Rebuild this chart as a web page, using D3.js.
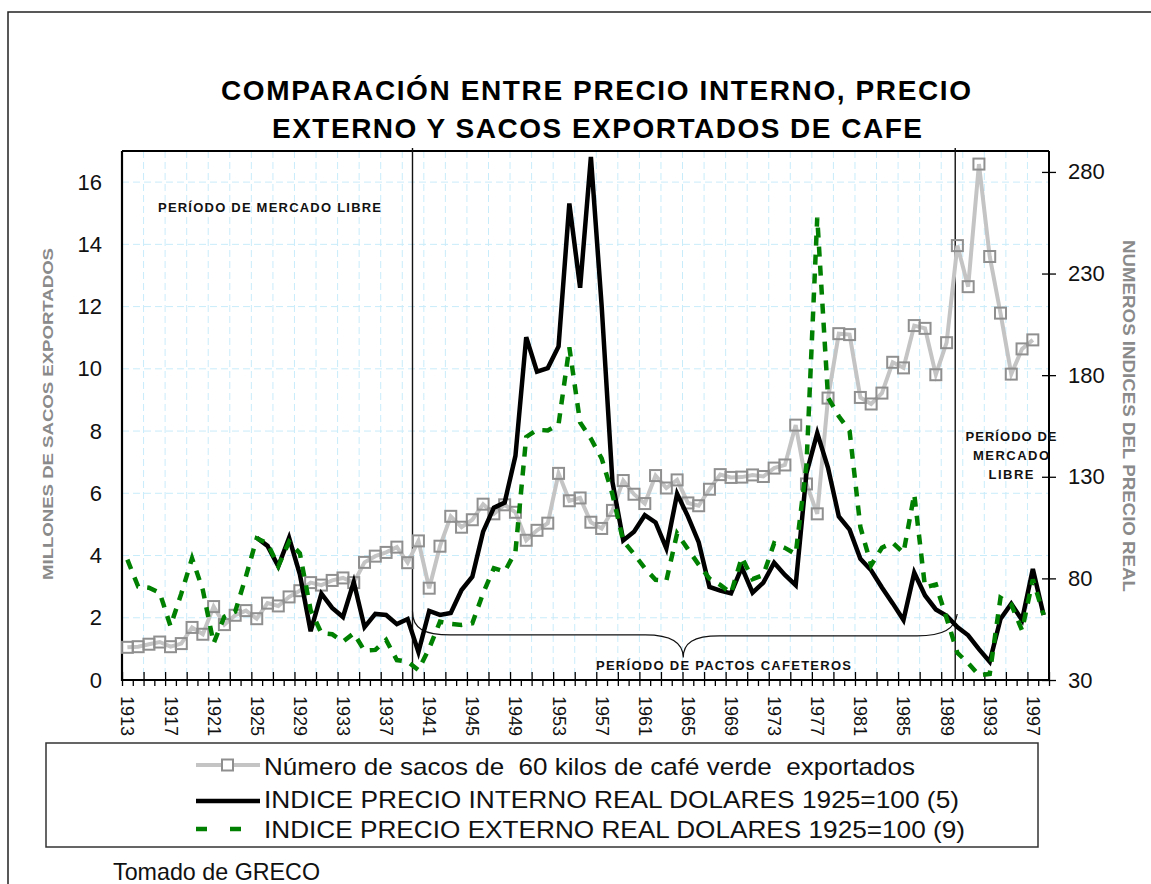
<!DOCTYPE html>
<html>
<head>
<meta charset="utf-8">
<script src="https://d3js.org/d3.v7.min.js"></script>
<style>
  body { margin: 0; background: #fff; }
  text { font-family: "Liberation Sans", Arial, sans-serif; }
</style>
</head>
<body>
<svg id="chart" width="1151" height="884"></svg>
<script>
// one entry per year, 1913..1998
const years = d3.range(1913, 1999)

// millones de sacos exportados (left axis)
const sacosExportados = [
  1.05, 1.07, 1.15, 1.22, 1.07, 1.17, 1.69, 1.47, 2.36, 1.78,
  2.08, 2.23, 1.97, 2.47, 2.38, 2.67, 2.87, 3.13, 3.05, 3.2,
  3.28, 3.13, 3.78, 3.98, 4.1, 4.27, 3.77, 4.47, 2.95, 4.3,
  5.26, 4.91, 5.15, 5.65, 5.34, 5.63, 5.39, 4.49, 4.81, 5.04,
  6.64, 5.76, 5.85, 5.07, 4.87, 5.45, 6.41, 5.97, 5.67, 6.57,
  6.17, 6.43, 5.69, 5.6, 6.13, 6.6, 6.51, 6.52, 6.59, 6.54,
  6.81, 6.91, 8.19, 6.3, 5.34, 9.06, 11.13, 11.1, 9.08, 8.87,
  9.22, 10.21, 10.03, 11.39, 11.3, 9.81, 10.84, 13.96, 12.64, 16.58,
  13.61, 11.79, 9.83, 10.64, 10.93, null
]

// indice precio interno real (right axis)
const precioInterno = [
  null, null, null, null, null, null, null, null, null, null, null, null,
  100, 96, 86, 100, 82, 54, 72.5, 65.5, 61, 78.2,
  56, 62.5, 62, 57.5, 60, 43.8, 64, 62, 63, 74.3,
  80.8, 103, 114.8, 117.3, 140.3, 198.7, 181.7, 183.5, 194.1, 264.5,
  223, 287.4, 214, 127.5, 98.7, 103, 111.1, 107.5, 94.8, 121.6,
  110.5, 97.8, 75.8, 74, 72.6, 85.4, 73, 77.9, 87.7, 81.7,
  76.7, 131.8, 151.5, 134.4, 110.5, 104, 89.7, 84, 75.5, 67.7,
  59.5, 82.8, 71.6, 64.7, 61.6, 56, 52, 45.2, 39, 60,
  67.5, 59.5, 84.6, 62
]

// indice precio externo real (right axis)
const precioExterno = [
  89.2, 76, 75.4, 72.9, 56.5, 72.5, 89.9, 74.3, 48.1, 61.2,
  63.6, 81, 99.7, 97.3, 86, 98, 92.3, 64.4, 53, 52.5,
  48.9, 53, 44.4, 44.8, 49.7, 39.8, 39, 34.9, 45.6, 58.7,
  57.6, 57.1, 57.9, 72.7, 85, 83.3, 93.1, 149.6, 153.1, 152.8,
  155.8, 193.7, 156.7, 148.7, 139, 121.4, 98.4, 92, 85, 79.3,
  78.8, 102.1, 94.4, 86.8, 79.9, 76.8, 72.7, 90.4, 79.6, 81.7,
  97.3, 95, 92, 135.8, 257.5, 169, 159.8, 152.5, 105.3, 86.5,
  95.1, 97.6, 92.5, 121.4, 75.6, 77, 60.4, 43.4, 38.3, 32.4,
  33, 70.5, 67.2, 54.4, 79.5, 62
]

const leftTicks = [0, 2, 4, 6, 8, 10, 12, 14, 16]
const rightTicks = [30, 80, 130, 180, 230, 280]
const yearLabels = [1913, 1917, 1921, 1925, 1929, 1933, 1937, 1941, 1945, 1949, 1953,
  1957, 1961, 1965, 1969, 1973, 1977, 1981, 1985, 1989, 1993, 1997]
const periodBreaks = [1939.45, 1989.8]

const legendLabels = [
  "Número de sacos de  60 kilos de café verde  exportados",
  "INDICE PRECIO INTERNO REAL DOLARES 1925=100 (5)",
  "INDICE PRECIO EXTERNO REAL DOLARES 1925=100 (9)"
]

const svg = d3.select("#chart")
const plot = { left: 122, right: 1049, top: 151, bottom: 680 }

const x = d3.scaleLinear().domain([1912.5, 1998.5]).range([plot.left, plot.right])
const yL = d3.scaleLinear().domain([0, 17]).range([plot.bottom, plot.top])
const yR = d3.scaleLinear().domain([30, 290.3]).range([plot.bottom, plot.top])

// outer frame
svg.append("rect").attr("x", 8).attr("y", 12).attr("width", 1160).attr("height", 900)
  .attr("fill", "none").attr("stroke", "#222").attr("stroke-width", 1.5)

// title
svg.append("text").attr("x", 596).attr("y", 100).attr("text-anchor", "middle")
  .attr("font-size", 28).attr("font-weight", "bold").attr("textLength", 750)
  .text("COMPARACIÓN ENTRE PRECIO INTERNO, PRECIO")
svg.append("text").attr("x", 597).attr("y", 138).attr("text-anchor", "middle")
  .attr("font-size", 28).attr("font-weight", "bold").attr("textLength", 650)
  .text("EXTERNO Y SACOS EXPORTADOS DE CAFE")

// grid
const grid = svg.append("g").attr("stroke", "#c9ecfa").attr("stroke-width", 1).attr("stroke-dasharray", "7,4")
grid.selectAll(".h").data(leftTicks.slice(1)).join("line")
  .attr("x1", plot.left).attr("x2", plot.right)
  .attr("y1", d => yL(d)).attr("y2", d => yL(d))
grid.selectAll(".v").data(d3.range(1914.5, 1998, 2)).join("line")
  .attr("x1", d => x(d)).attr("x2", d => x(d))
  .attr("y1", plot.top).attr("y2", plot.bottom)

// x axis ticks: minor every category, major every two
const minorAxis = svg.append("g").attr("transform", `translate(0,${plot.bottom})`)
  .call(d3.axisBottom(x).tickValues(d3.range(1913.5, 1998, 2)).tickSize(6).tickFormat(""))
const majorAxis = svg.append("g").attr("transform", `translate(0,${plot.bottom})`)
  .call(d3.axisBottom(x).tickValues(d3.range(1912.5, 1999, 2)).tickSize(6).tickFormat(""))
majorAxis.selectAll(".tick line").attr("y1", -8)
;[minorAxis, majorAxis].forEach(g => {
  g.select(".domain").remove()
  g.selectAll(".tick line").attr("stroke", "#000").attr("stroke-width", 1.3)
})

const labelAxis = svg.append("g").attr("transform", `translate(0,${plot.bottom})`)
  .call(d3.axisBottom(x).tickValues(yearLabels).tickSize(0).tickFormat(d3.format("d")))
labelAxis.select(".domain").remove()
labelAxis.selectAll(".tick text")
  .attr("font-family", "Liberation Sans, Arial, sans-serif").attr("font-size", 18)
  .attr("fill", "#111")
  .attr("text-anchor", "start").attr("y", 0).attr("dy", "0.36em")
  .attr("transform", "translate(0,16) rotate(90)")

// left axis labels
const leftAxis = svg.append("g").attr("transform", `translate(${plot.left},0)`)
  .call(d3.axisLeft(yL).tickValues(leftTicks).tickSize(0).tickPadding(20))
leftAxis.select(".domain").remove()
leftAxis.selectAll(".tick text").attr("font-family", "Liberation Sans, Arial, sans-serif")
  .attr("font-size", 22).attr("fill", "#111")

// right axis
const rightAxis = svg.append("g").attr("transform", `translate(${plot.right},0)`)
  .call(d3.axisRight(yR).tickValues(rightTicks).tickSize(7).tickPadding(12))
rightAxis.select(".domain").remove()
rightAxis.selectAll(".tick line").attr("x1", -7).attr("stroke", "#000").attr("stroke-width", 1.3)
rightAxis.selectAll(".tick text").attr("font-family", "Liberation Sans, Arial, sans-serif")
  .attr("font-size", 22).attr("fill", "#111")

// frame lines of the plot
svg.append("line").attr("x1", plot.left).attr("x2", plot.right).attr("y1", plot.top).attr("y2", plot.top)
  .attr("stroke", "#000").attr("stroke-width", 1.8)
svg.append("line").attr("x1", plot.right).attr("x2", plot.right).attr("y1", plot.top).attr("y2", plot.bottom)
  .attr("stroke", "#000").attr("stroke-width", 2)
svg.append("line").attr("x1", plot.left).attr("x2", plot.left).attr("y1", plot.top).attr("y2", plot.bottom + 1)
  .attr("stroke", "#000").attr("stroke-width", 2.2)
svg.append("line").attr("x1", plot.left).attr("x2", plot.right).attr("y1", plot.bottom).attr("y2", plot.bottom)
  .attr("stroke", "#000").attr("stroke-width", 2.2)

// axis titles
svg.append("text").attr("transform", "translate(53,414) rotate(-90)").attr("text-anchor", "middle")
  .attr("font-size", 15).attr("font-weight", "bold").attr("fill", "#8a8a8a")
  .attr("textLength", 332).attr("lengthAdjust", "spacingAndGlyphs")
  .text("MILLONES DE SACOS EXPORTADOS")
svg.append("text").attr("transform", "translate(1123,416) rotate(90)").attr("text-anchor", "middle")
  .attr("font-size", 16).attr("font-weight", "bold").attr("fill", "#8a8a8a")
  .attr("textLength", 352).attr("lengthAdjust", "spacingAndGlyphs")
  .text("NUMEROS INDICES DEL PRECIO REAL")

// period separators
svg.selectAll(".sep").data(periodBreaks).join("line")
  .attr("x1", d => x(d)).attr("x2", d => x(d))
  .attr("y1", plot.top - 3).attr("y2", plot.bottom)
  .attr("stroke", "#111").attr("stroke-width", 1.4)

// brace for the pacts period
const bx0 = x(periodBreaks[0]), bx1 = x(periodBreaks[1]), tip = x(1964.57)
const yb = yL(1.45), ytip = yL(0.72), yEnd0 = yL(2.2), yEnd1 = yL(2.12)
svg.append("path")
  .attr("d", `M${bx0},${yEnd0} C${bx0},${yb - 6} ${bx0 + 12},${yb} ${bx0 + 38},${yb}` +
    ` L${tip - 38},${yb} C${tip - 12},${yb} ${tip},${yb + 8} ${tip},${ytip}` +
    ` C${tip},${yb + 8} ${tip + 10},${yb + 1} ${tip + 36},${yb + 1}` +
    ` L${bx1 - 38},${yb + 1} C${bx1 - 12},${yb + 1} ${bx1},${yb - 6} ${bx1 + 2},${yEnd1}`)
  .attr("fill", "none").attr("stroke", "#111").attr("stroke-width", 1.2)

// period annotations
const note = (tx, ty, s, anchor, len) => svg.append("text").attr("x", tx).attr("y", ty)
  .attr("text-anchor", anchor).attr("font-size", 13).attr("font-weight", "bold")
  .attr("fill", "#111").attr("textLength", len).text(s)
note(158, 212, "PERÍODO DE MERCADO LIBRE", "start", 223)
note(596, 670, "PERÍODO DE PACTOS CAFETEROS", "start", 255)
note(1011, 441, "PERÍODO DE", "middle", 91)
note(1011, 460, "MERCADO", "middle", 76)
note(1011, 479, "LIBRE", "middle", 45)

// series
const lineL = d3.line().defined(d => d != null).x((d, i) => x(years[i])).y(d => yL(d))
const lineR = d3.line().defined(d => d != null).x((d, i) => x(years[i])).y(d => yR(d))

svg.append("path").datum(sacosExportados).attr("d", lineL)
  .attr("fill", "none").attr("stroke", "#c4c4c4").attr("stroke-width", 4)
svg.selectAll(".mk").data(years.filter((yr, i) => sacosExportados[i] != null)).join("rect")
  .attr("x", d => x(d) - 5.5).attr("y", d => yL(sacosExportados[d - years[0]]) - 5.5)
  .attr("width", 11).attr("height", 11)
  .attr("fill", "none").attr("stroke", "#8f8f8f").attr("stroke-width", 2)

svg.append("path").datum(precioInterno).attr("d", lineR)
  .attr("fill", "none").attr("stroke", "#000").attr("stroke-width", 4.5)
  .attr("stroke-linejoin", "miter")

svg.append("path").datum(precioExterno).attr("d", lineR)
  .attr("fill", "none").attr("stroke", "#008000").attr("stroke-width", 4.5)
  .attr("stroke-dasharray", "10,9")

// legend
svg.append("rect").attr("x", 46).attr("y", 743).attr("width", 992).attr("height", 104)
  .attr("fill", "#fff").attr("stroke", "#333").attr("stroke-width", 1.5)
const rowY = [765, 801, 829]
const baseY = [775, 808, 838]
const textLen = [651, 695, 701]
svg.append("line").attr("x1", 196).attr("x2", 260).attr("y1", rowY[0]).attr("y2", rowY[0])
  .attr("stroke", "#c4c4c4").attr("stroke-width", 4)
svg.append("rect").attr("x", 222).attr("y", rowY[0] - 5.5).attr("width", 11).attr("height", 11)
  .attr("fill", "#fff").attr("stroke", "#8f8f8f").attr("stroke-width", 2)
svg.append("line").attr("x1", 196).attr("x2", 260).attr("y1", rowY[1]).attr("y2", rowY[1])
  .attr("stroke", "#000").attr("stroke-width", 4.5)
svg.append("line").attr("x1", 196).attr("x2", 242).attr("y1", rowY[2]).attr("y2", rowY[2])
  .attr("stroke", "#008000").attr("stroke-width", 4.5).attr("stroke-dasharray", "11,23")
legendLabels.forEach((s, i) => {
  svg.append("text").attr("x", 264).attr("y", baseY[i]).attr("font-size", 24)
    .attr("xml:space", "preserve").style("white-space", "pre")
    .attr("fill", "#111").attr("textLength", textLen[i]).attr("lengthAdjust", "spacingAndGlyphs").text(s)
})

svg.append("text").attr("x", 113).attr("y", 880).attr("font-size", 24).attr("fill", "#111")
  .attr("textLength", 207).attr("lengthAdjust", "spacingAndGlyphs").text("Tomado de GRECO")
</script>
</body>
</html>
